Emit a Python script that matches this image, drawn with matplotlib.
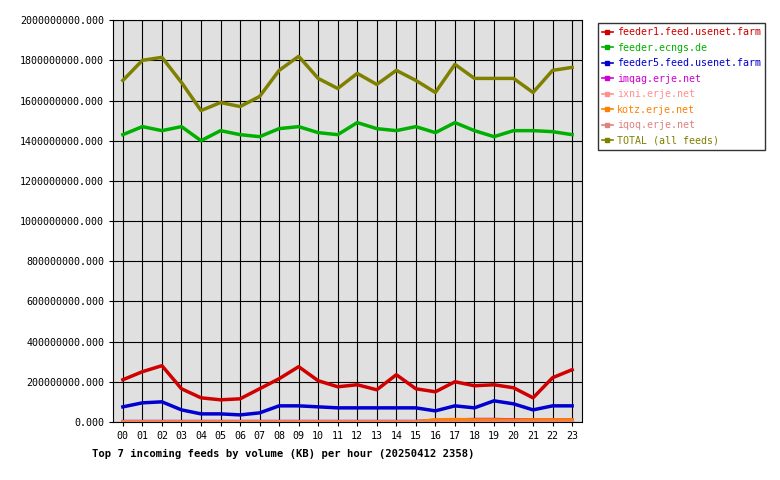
import matplotlib
matplotlib.use("Agg")
import matplotlib.pyplot as plt
from matplotlib.ticker import FuncFormatter

hours = ["%02d" % h for h in range(24)]
names = ["feeder1.feed.usenet.farm", "feeder.ecngs.de", "feeder5.feed.usenet.farm",
         "imqag.erje.net", "ixni.erje.net", "kotz.erje.net", "iqoq.erje.net", "TOTAL (all feeds)"]
colors = ["#d00000", "#00b000", "#0000d0", "#d000d0", "#ff9090", "#ff8000", "#e08080", "#808000"]
feeder1 = [0.21,0.25,0.28,0.165,0.12,0.11,0.115,0.165,0.215,0.275,0.205,0.175,0.185,0.16,0.235,0.165,0.15,0.2,0.18,0.185,0.17,0.12,0.22,0.26]
ecngs = [1.43,1.47,1.45,1.47,1.40,1.45,1.43,1.42,1.46,1.47,1.44,1.43,1.49,1.46,1.45,1.47,1.44,1.49,1.45,1.42,1.45,1.45,1.445,1.43]
feeder5 = [0.075,0.095,0.1,0.06,0.04,0.04,0.035,0.045,0.08,0.08,0.075,0.07,0.07,0.07,0.07,0.07,0.055,0.08,0.07,0.105,0.09,0.06,0.08,0.08]
imqag = [0.002]*16 + [0.008,0.01,0.012,0.012,0.01,0.01,0.01,0.01]
ixni = [0.001]*24
kotz = [0.001]*16 + [0.01,0.012,0.01,0.01,0.008,0.01,0.01,0.01]
iqoq = [0.001]*24
total = [1.70,1.80,1.815,1.69,1.55,1.59,1.57,1.62,1.75,1.82,1.71,1.66,1.735,1.68,1.75,1.70,1.64,1.78,1.71,1.71,1.71,1.64,1.75,1.765]
series = [feeder1, ecngs, feeder5, imqag, ixni, kotz, iqoq, total]

plt.rcParams['font.family'] = ['DejaVu Sans Mono']
fig = plt.figure(figsize=(7.8, 4.8), dpi=100)
ax = fig.add_axes([0.145, 0.121, 0.601, 0.837])
ax.set_facecolor("#e0e0e0")
x = list(range(24))
for n, c, s in zip(names, colors, series):
    ax.plot(x, [v * 1e9 for v in s], color=c, lw=2.5, label=n, zorder=3)
ax.set_xlim(-0.5, 23.5)
ax.set_ylim(0, 2e9)
ax.set_xticks(x)
ax.set_xticklabels(hours, fontsize=7.2)
ax.set_yticks([i * 2e8 for i in range(11)])
ax.yaxis.set_major_formatter(FuncFormatter(lambda v, p: "%.3f" % v))
ax.tick_params(labelsize=7.2, length=3)
ax.grid(True, color="black", lw=0.8)
ax.set_axisbelow(True)
fig.text(0.118, 0.048, "Top 7 incoming feeds by volume (KB) per hour (20250412 2358)", fontsize=7.6, fontweight='bold')
handles = [plt.Line2D([], [], color=c, lw=1.2, marker='s', markersize=2.5) for c in colors]
leg = fig.legend(handles, names, loc='upper left', bbox_to_anchor=(0.76, 0.962), fontsize=7.2,
                 frameon=True, fancybox=False, edgecolor='black', handlelength=1.1, labelspacing=0.55,
                 borderpad=0.4, handletextpad=0.4)
for t, c in zip(leg.get_texts(), colors):
    t.set_color(c)
fig.savefig("out.png", dpi=100)
